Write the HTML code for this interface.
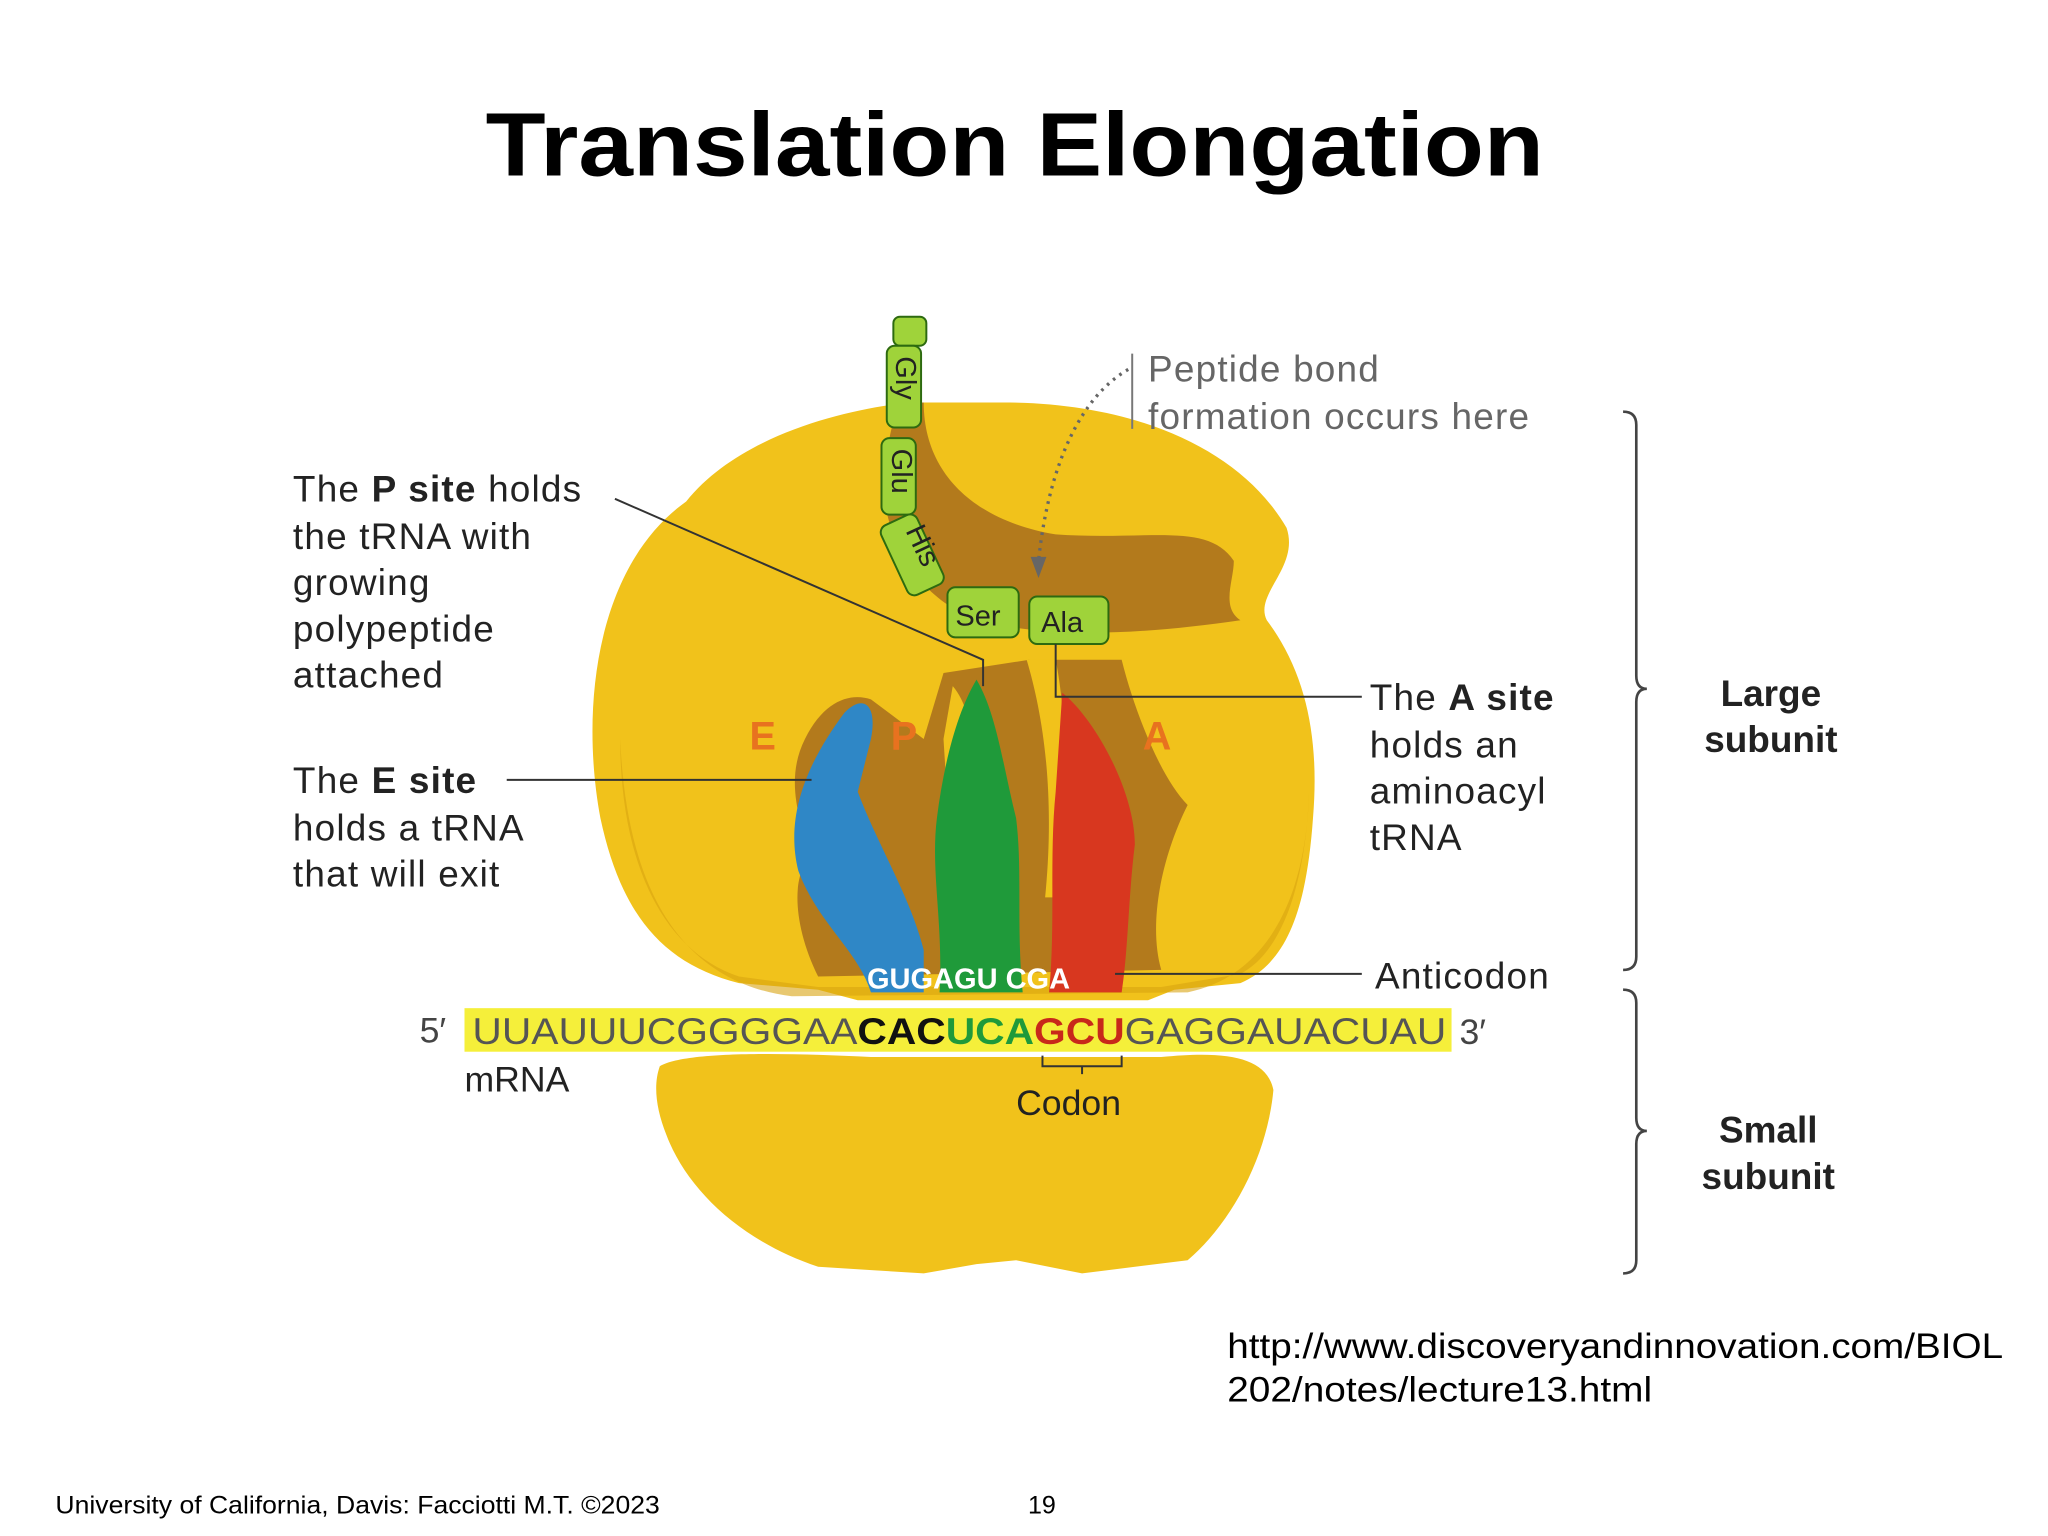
<!DOCTYPE html>
<html><head><meta charset="utf-8"><style>
html,body{margin:0;padding:0;background:#fff;width:2048px;height:1536px;overflow:hidden}
svg{display:block}
text{font-family:"Liberation Sans",sans-serif}
</style></head><body>
<svg width="2048" height="1536" viewBox="0 0 1552 1164" xmlns="http://www.w3.org/2000/svg">
<rect width="1552" height="1164" fill="#fff"/>
<text x="368" y="133" font-size="68" font-weight="bold" fill="#000" textLength="802" lengthAdjust="spacingAndGlyphs">Translation Elongation</text>

<!-- large subunit -->
<path d="M520,380 C560,330 640,310 690,305 L760,305 C860,305 940,340 975,400 C985,430 950,450 960,470 C990,510 1000,560 995,620 C990,690 975,730 940,745 L890,750 L870,758 L650,758 L620,750 L560,745 C500,730 470,690 455,620 C440,540 450,430 520,380 Z" fill="#f1c21b"/>
<path d="M470,560 C470,650 500,720 560,740 L620,748 L880,748 L940,738 C975,720 990,660 992,600 C990,680 960,740 900,752 L600,755 C520,745 475,680 470,560 Z" fill="#d9a310" opacity=".6"/>
<path d="M680,305 L700,305 C700,360 740,395 800,405 C870,410 915,395 935,425 C935,440 925,460 940,470 C870,480 800,485 740,470 C690,450 665,400 670,350 Z" fill="#b37a1c"/>
<path d="M610,560 C625,530 645,525 660,530 L700,560 L715,510 L780,500 L790,520 L800,500 L850,500 C860,540 880,590 900,610 C880,650 870,700 880,735 L620,740 C600,700 600,660 615,650 C605,620 595,590 610,560 Z" fill="#b37a1c"/>
<path d="M722,520 C740,540 745,600 745,660 L735,690 L720,640 L715,560 Z" fill="#f1c21b"/>
<path d="M778,500 C790,540 800,600 792,680 L802,680 C810,600 808,540 800,500 Z" fill="#f1c21b"/>
<path d="M640,540 C655,525 665,535 660,560 L650,600 C665,640 690,680 700,720 L700,752 L660,752 C650,720 620,700 605,660 C595,620 610,580 640,540 Z" fill="#2f87c6"/>
<path d="M740,515 C755,540 760,580 770,620 C775,660 770,700 775,752 L712,752 C715,700 705,660 710,620 C715,580 725,540 740,515 Z" fill="#1f9a3a"/>
<path d="M805,525 C830,545 860,600 860,640 C855,680 855,720 850,752 L795,752 C800,700 795,650 800,600 Z" fill="#d8371f"/>
<!-- small subunit -->
<path d="M500,808 C520,796 600,798 660,801 L880,801 C930,796 960,801 965,826 C960,880 930,930 900,955 L820,965 L770,955 L740,958 L700,965 L620,960 C560,940 520,900 505,860 C497,840 495,822 500,808 Z" fill="#f1c21b"/>
<!-- mRNA strip -->
<rect x="352" y="764" width="748" height="33" fill="#f5ef3a"/>
<text x="318" y="790" font-size="27" fill="#444">5′</text>
<text x="358" y="791" font-size="28" fill="#555" textLength="738" lengthAdjust="spacingAndGlyphs">UUAUUUCGGGGAA<tspan fill="#111" font-weight="bold">CAC</tspan><tspan fill="#1f9a3a" font-weight="bold">UCA</tspan><tspan fill="#c8281a" font-weight="bold">GCU</tspan>GAGGAUACUAU</text>
<text x="1106" y="791" font-size="27" fill="#444">3′</text>
<text x="352" y="827" font-size="27" fill="#222">mRNA</text>
<path d="M790,800 v8 h30 v6 M820,808 h30 v-8" fill="none" stroke="#333" stroke-width="1.5"/>
<text x="770" y="845" font-size="27" fill="#222">Codon</text>
<text x="657" y="749" font-size="22" font-weight="bold" fill="#fff">GUGAGU CGA</text>

<!-- peptide chain -->
<g fill="#9fd33a" stroke="#2d6a10" stroke-width="1.5">
<rect x="677" y="240" width="25" height="22" rx="5"/>
<rect x="672" y="262" width="26" height="62" rx="6"/>
<rect x="668" y="332" width="26" height="58" rx="6"/>
<rect x="676" y="392" width="30" height="58" rx="6" transform="rotate(-25 690 420)"/>
<rect x="718" y="445" width="54" height="38" rx="6"/>
<rect x="780" y="452" width="60" height="36" rx="6"/>
</g>
<g font-size="22" fill="#222">
<text transform="translate(679,270) rotate(90)">Gly</text>
<text transform="translate(676,340) rotate(90)">Glu</text>
<text transform="translate(686,402) rotate(65)">His</text>
<text x="724" y="474">Ser</text>
<text x="789" y="479">Ala</text>
</g>
<g font-size="30" font-weight="bold" fill="#e8721f">
<text x="568" y="568">E</text><text x="675" y="568">P</text><text x="866" y="568">A</text>
</g>

<g stroke="#333" stroke-width="1.5" fill="none">
<path d="M466,378 L745,500 V520"/>
<path d="M384,591 H615"/>
<path d="M800,488 V528 H1032"/>
<path d="M845,738 H1032"/>
<path d="M858,268 V325" stroke="#777"/>
</g>
<path d="M855,280 C820,300 795,350 787,425" fill="none" stroke="#666" stroke-width="2.5" stroke-dasharray="2 4"/>
<path d="M781,422 L793,422 L787,438 Z" fill="#666"/>

<g font-size="28" fill="#222" letter-spacing="0.9">
<text x="222" y="380">The <tspan font-weight="bold">P site</tspan> holds</text>
<text x="222" y="416">the tRNA with</text>
<text x="222" y="451">growing</text>
<text x="222" y="486">polypeptide</text>
<text x="222" y="521">attached</text>
<text x="222" y="601">The <tspan font-weight="bold">E site</tspan></text>
<text x="222" y="637">holds a tRNA</text>
<text x="222" y="672">that will exit</text>
<text x="1038" y="538">The <tspan font-weight="bold">A site</tspan></text>
<text x="1038" y="574">holds an</text>
<text x="1038" y="609">aminoacyl</text>
<text x="1038" y="644">tRNA</text>
<text x="1042" y="749">Anticodon</text>
</g>
<g font-size="28" fill="#666" letter-spacing="0.9">
<text x="870" y="289">Peptide bond</text>
<text x="870" y="325">formation occurs here</text>
</g>

<g stroke="#444" stroke-width="2" fill="none">
<path d="M1230,312 Q1240,312 1240,322 V512 Q1240,522 1248,522 Q1240,522 1240,532 V725 Q1240,735 1230,735"/>
<path d="M1230,750 Q1240,750 1240,760 V847 Q1240,857 1248,857 Q1240,857 1240,867 V955 Q1240,965 1230,965"/>
</g>
<g font-size="28" font-weight="bold" fill="#222" text-anchor="middle">
<text x="1342" y="535">Large</text><text x="1342" y="570">subunit</text>
<text x="1340" y="866">Small</text><text x="1340" y="901">subunit</text>
</g>

<g font-size="27" fill="#000">
<text x="930" y="1029" textLength="588" lengthAdjust="spacingAndGlyphs">http://www.discoveryandinnovation.com/BIOL</text>
<text x="930" y="1062" textLength="322" lengthAdjust="spacingAndGlyphs">202/notes/lecture13.html</text>
</g>
<text x="42" y="1147" font-size="19" fill="#000" textLength="458" lengthAdjust="spacingAndGlyphs">University of California, Davis: Facciotti M.T.  ©2023</text>
<text x="779" y="1147" font-size="19" fill="#000">19</text>
</svg>
</body></html>
